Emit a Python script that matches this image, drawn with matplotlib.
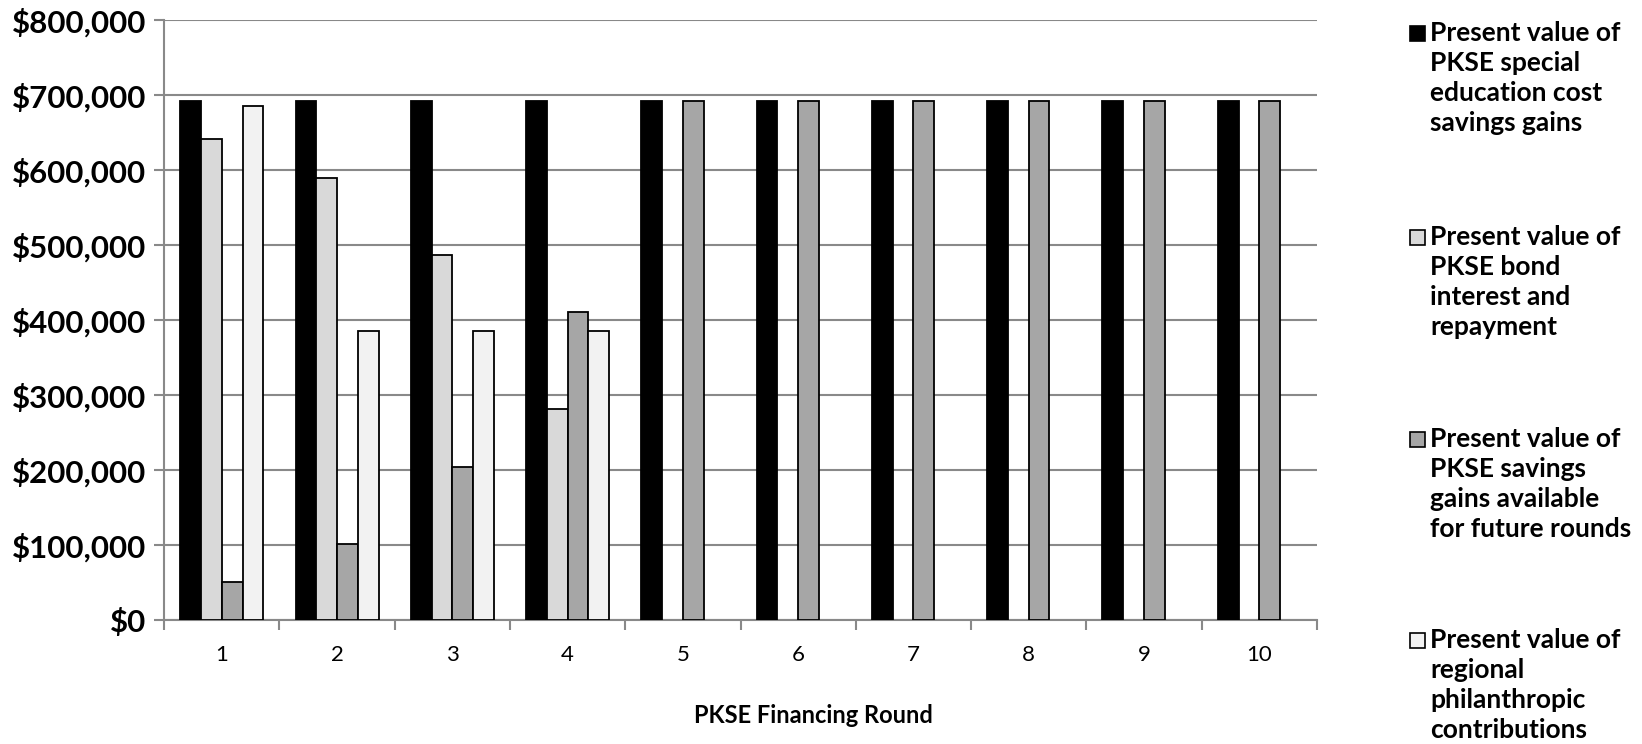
import numpy as np
import matplotlib.pyplot as plt
from matplotlib.patches import Rectangle
from matplotlib.ticker import FuncFormatter

rounds = [1, 2, 3, 4, 5, 6, 7, 8, 9, 10]
# present values by financing round (nan = no bar)
cost_savings = [693000, 693000, 693000, 693000, 693000, 693000, 693000, 693000, 693000, 693000]
bond_repay = [642000, 590000, 487000, 281000, np.nan, np.nan, np.nan, np.nan, np.nan, np.nan]
future_gains = [50000, 102000, 204000, 411000, 693000, 693000, 693000, 693000, 693000, 693000]
philanthropy = [686000, 385500, 385500, 385500, np.nan, np.nan, np.nan, np.nan, np.nan, np.nan]

series = [cost_savings, bond_repay, future_gains, philanthropy]
colors = ["#000000", "#D9D9D9", "#A6A6A6", "#F2F2F2"]
labels = ["Present value of\nPKSE special\neducation cost\nsavings gains",
          "Present value of\nPKSE bond\ninterest and\nrepayment",
          "Present value of\nPKSE savings\ngains available\nfor future rounds",
          "Present value of\nregional\nphilanthropic\ncontributions"]

plt.rcParams['font.family'] = ['Lato', 'DejaVu Sans']

fig = plt.figure(figsize=(16.42, 7.44), dpi=100)
ax = fig.add_axes([0.100, 0.1667, 0.702, 0.806])

x = np.arange(len(rounds)) + 1
w = 0.18
for i, vals in enumerate(series):
    ax.bar(x + (i - 1.5) * w, vals, width=w, color=colors[i],
           edgecolor="black", linewidth=1.3, zorder=3)

ax.set_xlim(0.5, 10.5)
ax.set_ylim(0, 800000)
ax.set_yticks(np.arange(0, 800001, 100000))
ax.yaxis.set_major_formatter(FuncFormatter(lambda v, p: "${:,.0f}".format(v)))
ax.set_xticks(x)
ax.set_xticklabels([str(r) for r in rounds], fontsize=16)
ax.set_xticks(np.arange(0.5, 11, 1), minor=True)
ax.tick_params(axis='x', which='major', length=0, pad=18)
ax.tick_params(axis='x', which='minor', length=7, width=1.5, color="#898989", direction='out')
ax.tick_params(axis='y', length=7, width=1.5, color="#898989", pad=6)
for t in ax.get_yticklabels():
    t.set_fontsize(22.5)
    t.set_fontweight('bold')

ax.grid(axis='y', color="#898989", linewidth=1.5, zorder=0)
ax.set_axisbelow(True)
for s in ["top", "right"]:
    ax.spines[s].set_visible(False)
for s in ["left", "bottom"]:
    ax.spines[s].set_color("#898989")
    ax.spines[s].set_linewidth(1.5)

ax.set_xlabel("PKSE Financing Round", fontsize=17, fontweight='bold', labelpad=34)
ax.xaxis.set_label_coords(0.563, -0.14)

# legend drawn by hand so the square sits on the first line
tops = [21, 225, 427, 628]
for i, lab in enumerate(labels):
    ytop = 1 - tops[i] / 744
    fig.text(1430 / 1642, ytop, lab, fontsize=19, fontweight='bold',
             va='top', ha='left', linespacing=1.3)
    fig.patches.append(Rectangle((1410 / 1642, ytop - 20 / 744), 15 / 1642, 15 / 744,
                                 transform=fig.transFigure, facecolor=colors[i],
                                 edgecolor="black", linewidth=1.2))

fig.savefig("out.png", dpi=100)
